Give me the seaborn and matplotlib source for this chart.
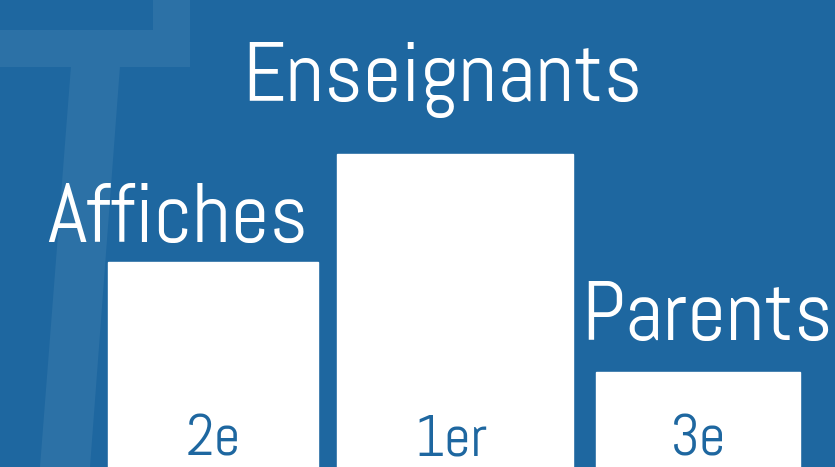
import matplotlib.pyplot as plt
import seaborn as sns
import pandas as pd

# podium data
categories = ['Affiches', 'Enseignants', 'Parents']
heights = [205, 313, 95]
ranks = ['2e', '1er', '3e']

bg = '#1e67a0'
mark = '#2c71a6'

sns.set_theme(style='white')
plt.rcParams['font.family'] = ['Abel', 'Roboto', 'DejaVu Sans']

fig = plt.figure(figsize=(8.35, 4.67), dpi=100)
fig.patch.set_facecolor(bg)

# faint "T" watermark in the background (pixel coordinates)
bgax = fig.add_axes([0, 0, 1, 1])
bgax.set_xlim(0, 835)
bgax.set_ylim(467, 0)
bgax.axis('off')
bgax.fill([153, 190, 190, 0, 0, 153], [0, 0, 67, 67, 30, 30], color=mark, lw=0)
bgax.fill([71, 120, 90, 40], [66, 66, 467, 467], color=mark, lw=0)

ax = fig.add_axes([0, 0, 1, 1])
ax.patch.set_alpha(0)
df = pd.DataFrame({'cat': categories, 'h': heights})
sns.barplot(data=df, x='cat', y='h', color='white', saturation=1, width=0.9, ax=ax)

# individual bar widths (in category units) like the original podium
widths = [0.866, 0.973, 0.841]
for p, w in zip(ax.patches, widths):
    c = p.get_x() + p.get_width() / 2
    p.set_width(w)
    p.set_x(c - w / 2)

ax.set_xlim(-0.878, 2.565)
ax.set_ylim(0, 467)
ax.axis('off')

# labels above bars
label_dx = [-0.145, -0.054, 0.037]
label_gap = [20, 53, 32]
for i, (cat, h) in enumerate(zip(categories, heights)):
    ax.text(i + label_dx[i], h + label_gap[i], cat, ha='center', va='baseline',
            color='white', fontsize=61)
    ax.text(i - 0.02 * (i == 1), 12, ranks[i], ha='center', va='baseline',
            color=bg, fontsize=42)

fig.savefig('out.png', dpi=100, facecolor=bg)
